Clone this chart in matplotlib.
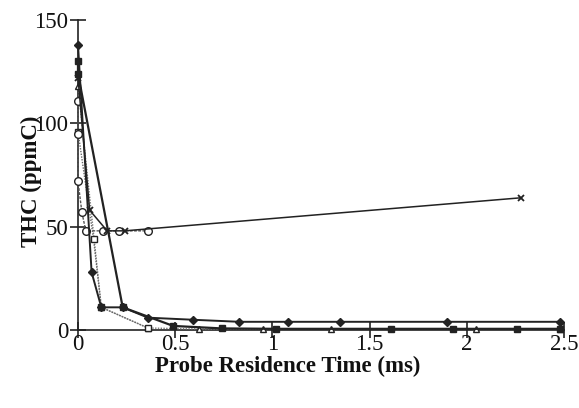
import matplotlib
matplotlib.use("Agg")
import matplotlib.pyplot as plt

plt.rcParams['font.family'] = ['Liberation Serif', 'DejaVu Serif']

# Probe residence time (ms) and total hydrocarbon (ppmC) for each run
diamond_t = [0.0, 0.07, 0.12, 0.23, 0.36, 0.59, 0.83, 1.08, 1.35, 1.90, 2.48]
diamond_thc = [138, 28, 11, 11, 6, 5, 4, 4, 4, 4, 4]

fsquare_t = [0.0, 0.0, 0.23, 0.49, 0.74, 1.02, 1.61, 1.93, 2.26, 2.48]
fsquare_thc = [130, 124, 11, 2, 0.8, 0.6, 0.6, 0.6, 0.6, 0.6]

triangle_t = [0.0, 0.12, 0.36, 0.62, 0.95, 1.30, 2.05, 2.48]
triangle_thc = [118, 11, 1, 0.5, 0.5, 0.5, 0.5, 0.5]

osquare_t = [0.0, 0.08, 0.12, 0.36]
osquare_thc = [96, 44, 11, 1]

circle_t = [0.0, 0.0, 0.0, 0.02, 0.04, 0.13, 0.21, 0.36]
circle_thc = [111, 95, 72, 57, 48, 48, 48, 48]

cross_t = [0.0, 0.06, 0.15, 0.24, 2.28]
cross_thc = [122, 58, 48, 48, 64]

x_ticks = [0, 0.5, 1, 1.5, 2, 2.5]
x_tick_labels = ['0', '0.5', '1', '1.5', '2', '2.5']
y_ticks = [0, 50, 100, 150]

fig = plt.figure(figsize=(5.79, 4.08), dpi=100)
ax = fig.add_axes([0.1347, 0.191, 0.8393, 0.760])

ink = '#222222'
ax.plot(triangle_t, triangle_thc, color='#777777', lw=1.0, ls=(0, (1, 1)),
        marker='^', ms=5, mfc='white', mec=ink, mew=1.0, clip_on=False, zorder=3)
ax.plot(osquare_t, osquare_thc, color='#666666', lw=1.0, ls=(0, (1, 1)),
        marker='s', ms=5, mfc='white', mec=ink, mew=1.0, clip_on=False, zorder=3)
ax.plot(circle_t, circle_thc, color='#555555', lw=1.0, ls=(0, (2, 1)),
        marker='o', ms=5.5, mfc='white', mec=ink, mew=1.0, clip_on=False, zorder=4)
ax.plot(cross_t, cross_thc, color=ink, lw=1.1,
        marker='x', ms=5, mec=ink, mew=1.3, clip_on=False, zorder=4)
ax.plot(fsquare_t, fsquare_thc, color=ink, lw=1.6,
        marker='s', ms=5, mfc=ink, mec=ink, clip_on=False, zorder=4)
ax.plot(diamond_t, diamond_thc, color=ink, lw=1.4,
        marker='D', ms=4.5, mfc=ink, mec=ink, clip_on=False, zorder=4)

ax.set_xlim(0, 2.5)
ax.set_ylim(0, 150)
ax.set_xticks(x_ticks)
ax.set_xticklabels(x_tick_labels)
ax.set_yticks(y_ticks)

for side in ('top', 'right'):
    ax.spines[side].set_visible(False)
for side in ('left', 'bottom'):
    ax.spines[side].set_color(ink)
    ax.spines[side].set_linewidth(1.2)

ax.tick_params(axis='both', direction='inout', length=12, width=1.2,
               colors=ink, labelsize=16.5, labelcolor='#111111')
ax.tick_params(axis='x', pad=-3)
ax.tick_params(axis='y', pad=1)

ax.set_xlabel('Probe Residence Time (ms)', fontsize=16.5, fontweight='bold',
              color='#111111')
ax.xaxis.set_label_coords(0.432, -0.083)
ax.set_ylabel('THC (ppmC)', fontsize=16.5, fontweight='bold',
              color='#111111')
ax.yaxis.set_label_coords(-0.075, 0.48)

fig.savefig('out.png', dpi=100)
